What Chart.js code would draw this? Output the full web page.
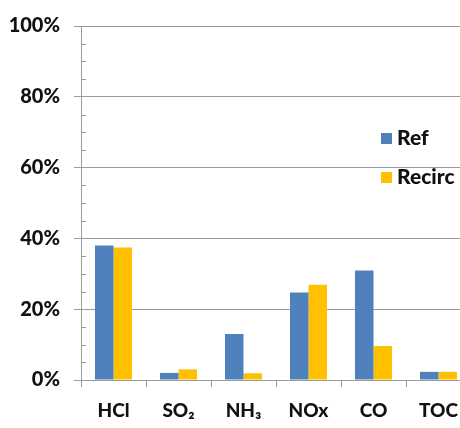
<!DOCTYPE html>
<html>
<head>
<meta charset="utf-8">
<script src="https://cdn.jsdelivr.net/npm/chart.js@4"></script>
<style>
  html, body { margin: 0; padding: 0; background: #fff; overflow: hidden; width: 460px; height: 428px; }
  #wrap { position: relative; width: 472px; height: 428px; }
</style>
</head>
<body>
<div id="wrap"><canvas id="chart"></canvas></div>
<script>
const categories = ["HCl", "SO\u2082", "NH\u2083", "NOx", "CO", "TOC"];
const refValues = [38.0, 2.0, 13.0, 24.7, 30.9, 2.3];
const recircValues = [37.4, 3.0, 1.9, 26.9, 9.6, 2.3];
const yTicks = [0, 20, 40, 60, 80, 100];

const font = "Lato, 'Open Sans', sans-serif";

// legend drawn inside the plot area, like the Excel original
const insideLegend = {
  id: "insideLegend",
  afterDraw(chart) {
    const ctx = chart.ctx;
    const items = [
      { x: 381, y: 133 },
      { x: 381, y: 172 },
    ];
    ctx.save();
    chart.data.datasets.forEach(function (ds, i) {
      const p = items[i];
      ctx.fillStyle = ds.backgroundColor;
      ctx.fillRect(p.x, p.y, 11, 11);
      ctx.fillStyle = "#111";
      ctx.font = "900 21px " + font;
      ctx.textBaseline = "middle";
      ctx.fillText(ds.label, p.x + 16, p.y + 5);
    });
    ctx.restore();
  },
};

// small minor ticks every 5% on the value axis
const minorTicks = {
  id: "minorTicks",
  afterDraw(chart) {
    const y = chart.scales.y;
    const ctx = chart.ctx;
    ctx.save();
    ctx.strokeStyle = "#9a9a9a";
    ctx.lineWidth = 1;
    for (let v = 5; v < 100; v += 5) {
      if (v % 20 === 0) continue;
      const py = Math.round(y.getPixelForValue(v)) + 0.5;
      ctx.beginPath();
      ctx.moveTo(y.right, py);
      ctx.lineTo(y.right + 5, py);
      ctx.stroke();
    }
    ctx.restore();
  },
};

new Chart(document.getElementById("chart"), {
  type: "bar",
  data: {
    labels: categories,
    datasets: [
      {
        label: "Ref",
        data: refValues,
        backgroundColor: "#4f81bd",
        categoryPercentage: 0.57,
        barPercentage: 1.0,
      },
      {
        label: "Recirc",
        data: recircValues,
        backgroundColor: "#ffc000",
        categoryPercentage: 0.57,
        barPercentage: 1.0,
      },
    ],
  },
  options: {
    responsive: true,
    maintainAspectRatio: false,
    animation: false,
    layout: { padding: { top: 21, right: 1, left: 0, bottom: 0 } },
    plugins: {
      legend: { display: false },
      tooltip: { enabled: false },
    },
    scales: {
      x: {
        grid: {
          offset: true,
          drawOnChartArea: false,
          drawTicks: true,
          tickLength: 7,
          color: "#9a9a9a",
        },
        border: { color: "#9a9a9a" },
        ticks: {
          padding: 12,
          color: "#111",
          font: { family: font, size: 19, weight: "900" },
        },
        afterFit(scale) { scale.height = 48; },
      },
      y: {
        min: 0,
        max: 100,
        afterBuildTicks(scale) {
          scale.ticks = yTicks.map(function (v) { return { value: v }; });
        },
        grid: {
          color: "#9a9a9a",
          tickLength: 7,
        },
        border: { color: "#9a9a9a" },
        ticks: {
          padding: 14,
          color: "#111",
          font: { family: font, size: 20, weight: "900" },
          callback: function (v) { return v + "%"; },
        },
        afterFit(scale) { scale.width = 81; },
      },
    },
  },
  plugins: [insideLegend, minorTicks],
});
</script>
</body>
</html>
